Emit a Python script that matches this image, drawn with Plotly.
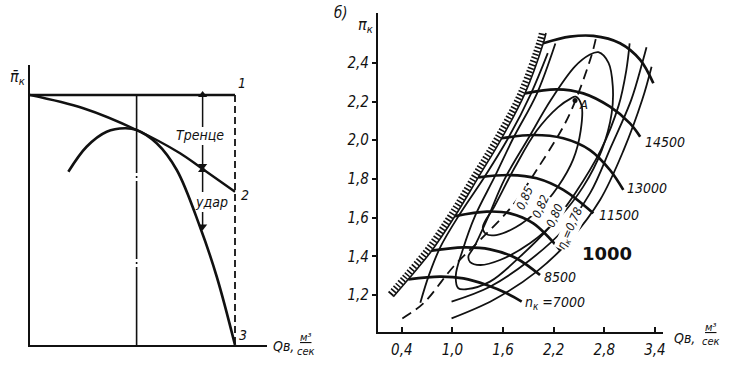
import plotly.graph_objects as go

# ======================= DATA =======================
# ---- left panel: schematic (relative units: Q / Q_max, pi / pi_max) ----
top_q = [0.0, 1.0]
top_pi = [1.0, 1.0]
friction_q = [0.0, 0.26, 0.52, 0.732, 0.837, 1.0]
friction_pi = [1.0, 0.947, 0.86, 0.767, 0.707, 0.613]
impact_q = [0.187, 0.276, 0.374, 0.463, 0.52, 0.618, 0.716, 0.829, 0.911, 1.0]
impact_pi = [0.693, 0.793, 0.853, 0.867, 0.86, 0.807, 0.70, 0.473, 0.273, 0.0]
design_q = 0.52
max_q = 1.0
point_names = ["1", "2", "3"]
# loss arrows (Q position, from pi, to pi)
arrow_q = 0.842
arrow_from = [0.872, 0.80, 0.612, 0.532]
arrow_to = [1.0, 0.716, 0.70, 0.474]

# ---- right panel: compressor map ----
x_tickvals = [0.4, 1.0, 1.6, 2.2, 2.8, 3.4]
x_ticktext = ["0,4", "1,0", "1,6", "2,2", "2,8", "3,4"]
y_tickvals = [1.2, 1.4, 1.6, 1.8, 2.0, 2.2, 2.4]
y_ticktext = ["1,2", "1,4", "1,6", "1,8", "2,0", "2,2", "2,4"]

surge_q = [0.30, 0.477, 0.755, 1.031, 1.307, 1.584, 1.86, 2.077, 2.109]
surge_pi = [1.191, 1.281, 1.429, 1.608, 1.808, 2.010, 2.242, 2.501, 2.554]

n7000_q = [0.477, 0.853, 1.13, 1.406, 1.643, 1.821]
n7000_pi = [1.281, 1.295, 1.286, 1.252, 1.209, 1.166]
n8500_q = [0.755, 1.13, 1.445, 1.761, 2.038]
n8500_pi = [1.429, 1.446, 1.436, 1.389, 1.303]
n10000_q = [1.031, 1.406, 1.682, 1.959, 2.275]
n10000_pi = [1.608, 1.631, 1.622, 1.570, 1.433]
n11500_q = [1.307, 1.682, 1.998, 2.314, 2.670]
n11500_pi = [1.808, 1.820, 1.803, 1.743, 1.622]
n13000_q = [1.584, 1.959, 2.314, 2.63, 2.867, 3.025]
n13000_pi = [2.010, 2.027, 2.010, 1.949, 1.846, 1.743]
n14500_q = [1.86, 2.235, 2.551, 2.867, 3.104, 3.225]
n14500_pi = [2.242, 2.263, 2.242, 2.173, 2.087, 2.018]
n16000_q = [2.077, 2.393, 2.670, 2.986, 3.225, 3.381]
n16000_pi = [2.501, 2.535, 2.539, 2.501, 2.415, 2.294]

speed_labels = ["n<sub>к</sub> =7000", "8500", "1000", "11500", "13000", "14500"]
speed_label_q = [1.84, 2.06, 2.51, 2.71, 3.045, 3.26]
speed_label_pi = [1.159, 1.293, 1.417, 1.613, 1.753, 1.99]

# efficiency contours
eta85_q = [2.43, 2.25, 2.02, 1.75, 1.52, 1.40, 1.36, 1.50, 1.74, 2.00, 2.25, 2.40, 2.46, 2.53, 2.52, 2.43]
eta85_pi = [1.90, 1.76, 1.64, 1.55, 1.51, 1.515, 1.55, 1.66, 1.86, 2.05, 2.17, 2.215, 2.225, 2.18, 2.05, 1.90]
eta82_q = [2.77, 2.55, 2.275, 1.919, 1.564, 1.33, 1.21, 1.19, 1.26, 1.42, 1.62, 1.90, 2.17, 2.45, 2.62, 2.73, 2.85, 2.90, 2.887, 2.77]
eta82_pi = [1.949, 1.76, 1.605, 1.467, 1.381, 1.355, 1.37, 1.40, 1.45, 1.60, 1.80, 2.01, 2.21, 2.38, 2.44, 2.455, 2.40, 2.28, 2.139, 1.949]
eta80_q = [2.22, 2.00, 1.72, 1.50, 1.27, 1.12, 1.04, 1.07, 1.17, 1.445, 1.801, 2.156, 2.453, 2.76, 2.97, 3.06, 3.10]
eta80_pi = [2.50, 2.24, 2.01, 1.81, 1.61, 1.43, 1.30, 1.235, 1.23, 1.269, 1.398, 1.553, 1.725, 1.95, 2.18, 2.36, 2.50]
eta78a_q = [0.99, 1.445, 1.919, 2.314, 2.63, 2.88, 3.12, 3.25, 3.30]
eta78a_pi = [1.166, 1.243, 1.381, 1.536, 1.725, 1.967, 2.21, 2.40, 2.48]
eta78b_q = [0.99, 1.485, 1.998, 2.393, 2.749, 3.03, 3.25, 3.36]
eta78b_pi = [1.079, 1.174, 1.321, 1.484, 1.691, 1.95, 2.21, 2.38]
eta78c_q = [0.62, 0.72, 0.86, 1.09, 1.38, 1.66, 1.93, 2.13]
eta78c_pi = [1.16, 1.30, 1.45, 1.62, 1.81, 2.01, 2.24, 2.45]

eta_labels = ["0,85", "0,82", "0,80", "η<sub>к</sub>=0,78"]
eta_label_q = [1.86, 2.044, 2.22, 2.405]
eta_label_pi = [1.70, 1.655, 1.611, 1.546]

optimum_q = [0.407, 0.656, 1.011, 1.327, 1.702, 1.998, 2.314, 2.453, 2.65, 2.709]
optimum_pi = [1.079, 1.157, 1.346, 1.484, 1.657, 1.846, 2.07, 2.199, 2.44, 2.544]
point_A_q = [2.453]
point_A_pi = [2.205]

# ======================= LAYOUT GEOMETRY =======================
W, H = 740, 370
L_X0, L_X1, L_Y0, L_Y1 = 30, 267, 345, 65     # left axis pixels
L_XS, L_YS = 205.0, 250.0                      # px per unit
R_X0, R_X1, R_Y0, R_Y1 = 378, 663, 332, 13     # right axis pixels
R_Q0PX, R_XS = 368.0, 84.4                      # px of Q=0, px per unit
R_P12PX, R_YS = 295.0, 193.5                    # px of pi=1.2, px per unit

def fx(px): return px / W
def fy(py): return 1 - py / H

FONT = "Liberation Sans Narrow, DejaVu Sans Condensed, Liberation Sans, Arial, sans-serif"
BLK = "#111111"

fig = go.Figure()

def line(xs, ys, xa, ya, width=2.2, dash="solid", shape="spline", color=BLK):
    fig.add_trace(go.Scatter(x=xs, y=ys, xaxis=xa, yaxis=ya, mode="lines",
                             line=dict(color=color, width=width, dash=dash, shape=shape, smoothing=1.0),
                             hoverinfo="skip", showlegend=False))

# ---- left panel traces ----
line(top_q, top_pi, "x", "y", 2.4, shape="linear")
line(friction_q, friction_pi, "x", "y", 2.4)
line(impact_q, impact_pi, "x", "y", 2.6)
line([design_q, design_q], [top_pi[0], 0], "x", "y", 1.6, dash="78px,3px,2px,3px", shape="linear")
line([max_q, max_q], [top_pi[1], 0], "x", "y", 1.8, dash="7px,4px", shape="linear")
for a, b in zip(arrow_from, arrow_to):
    line([arrow_q, arrow_q], [a, b], "x", "y", 1.5, shape="linear")
    fig.add_trace(go.Scatter(x=[arrow_q], y=[b], xaxis="x", yaxis="y", mode="markers",
                             marker=dict(symbol="triangle-up" if b > a else "triangle-down",
                                         size=8, color=BLK, line=dict(width=0)),
                             hoverinfo="skip", showlegend=False, cliponaxis=False))

# ---- right panel traces ----
def to_px(q, p):
    return R_Q0PX + q * R_XS, R_P12PX - (p - 1.2) * R_YS
def to_data(px, py):
    return (px - R_Q0PX) / R_XS, 1.2 + (R_P12PX - py) / R_YS
# hatch of the surge line: thick dashed stroke offset to the upper-left side
hq, hp = [], []
n = len(surge_q)
for i in range(n):
    a = to_px(surge_q[max(i - 1, 0)], surge_pi[max(i - 1, 0)])
    b = to_px(surge_q[min(i + 1, n - 1)], surge_pi[min(i + 1, n - 1)])
    dx, dy = b[0] - a[0], b[1] - a[1]
    ln = (dx * dx + dy * dy) ** 0.5
    nx, ny = dy / ln, -dx / ln
    if nx > 0:
        nx, ny = -nx, -ny
    cx, cy = to_px(surge_q[i], surge_pi[i])
    q2, p2 = to_data(cx + nx * 3.8, cy + ny * 3.8)
    hq.append(q2); hp.append(p2)
line(hq, hp, "x2", "y2", 6.5, dash="1.6px,2px")
line(surge_q, surge_pi, "x2", "y2", 1.6)

for qs, ps in [(eta85_q, eta85_pi), (eta82_q, eta82_pi), (eta80_q, eta80_pi),
               (eta78a_q, eta78a_pi), (eta78b_q, eta78b_pi), (eta78c_q, eta78c_pi)]:
    line(qs, ps, "x2", "y2", 1.8)

line(optimum_q, optimum_pi, "x2", "y2", 1.8, dash="10px,6px")

for qs, ps in [(n7000_q, n7000_pi), (n8500_q, n8500_pi), (n10000_q, n10000_pi),
               (n11500_q, n11500_pi), (n13000_q, n13000_pi), (n14500_q, n14500_pi),
               (n16000_q, n16000_pi)]:
    line(qs, ps, "x2", "y2", 2.7)

fig.add_trace(go.Scatter(x=point_A_q, y=point_A_pi, xaxis="x2", yaxis="y2", mode="markers",
                         marker=dict(color=BLK, size=5), hoverinfo="skip", showlegend=False))

# ======================= AXES =======================
fig.update_layout(
    template="none",
    width=W, height=H, margin=dict(l=0, r=0, t=0, b=0, autoexpand=False),
    paper_bgcolor="white", plot_bgcolor="white",
    font=dict(family=FONT, color=BLK, size=14, style="italic"),
    xaxis=dict(domain=[fx(L_X0), fx(L_X1)], range=[0, (L_X1 - L_X0) / L_XS],
               showline=True, linecolor=BLK, linewidth=2.4, anchor="y", automargin=False,
               showgrid=False, zeroline=False, showticklabels=False, ticks=""),
    yaxis=dict(domain=[fy(L_Y0), fy(L_Y1)], range=[0, (L_Y0 - L_Y1) / L_YS],
               showline=True, linecolor=BLK, linewidth=2.4, anchor="x", automargin=False,
               showgrid=False, zeroline=False, showticklabels=False, ticks=""),
    xaxis2=dict(domain=[fx(R_X0), fx(R_X1)],
                range=[(R_X0 - R_Q0PX) / R_XS, (R_X1 - R_Q0PX) / R_XS],
                showline=True, linecolor=BLK, linewidth=2.2, anchor="y2", automargin=False,
                showgrid=False, zeroline=False, ticks="inside", ticklen=5, tickwidth=1.6,
                tickcolor=BLK, tickvals=x_tickvals, ticktext=x_ticktext,
                tickfont=dict(size=15, family=FONT, style="italic"), ticklabelstandoff=3),
    yaxis2=dict(domain=[fy(R_Y0), fy(R_Y1)],
                range=[1.2 - (R_Y0 - R_P12PX) / R_YS, 1.2 + (R_P12PX - R_Y1) / R_YS],
                showline=True, linecolor=BLK, linewidth=2.2, anchor="x2", automargin=False,
                showgrid=False, zeroline=False, ticks="outside", ticklen=4, tickwidth=1.6,
                tickcolor=BLK, tickvals=y_tickvals, ticktext=y_ticktext,
                tickfont=dict(size=15, family=FONT, style="italic")),
)

# ======================= ANNOTATIONS =======================
ann = []
def ptext(text, px, py, size=14, xanchor="center", style="italic"):
    ann.append(dict(text=text, x=fx(px), y=fy(py), xref="paper", yref="paper",
                    xanchor=xanchor, yanchor="middle", showarrow=False,
                    font=dict(size=size, family=FONT, color=BLK, style=style)))

def dtext(text, q, p, xa, ya, size=14, xanchor="left", angle=0, bold=False, style="italic",
          family=FONT, bg=None):
    d = dict(text=text, x=q, y=p, xref=xa, yref=ya, xanchor=xanchor, yanchor="middle",
             showarrow=False, textangle=angle,
             font=dict(size=size, family=family, color=BLK, style=style,
                       weight="bold" if bold else "normal"))
    if bg:
        d["bgcolor"] = bg
        d["borderpad"] = 0
    ann.append(d)

# left panel
ptext("π̄<sub>к</sub>", 18, 77, size=16)
dtext(point_names[0], 1.033, 1.047, "x", "y", xanchor="center")
dtext(point_names[1], 1.049, 0.60, "x", "y", xanchor="center")
dtext(point_names[2], 1.039, 0.04, "x", "y", xanchor="center")
dtext("Тренце", 0.827, 0.84, "x", "y", xanchor="center")
dtext("удар", 0.883, 0.572, "x", "y", xanchor="center")
ptext("Qв,", 271, 346, xanchor="left")
ptext("<u>м³</u><br>сек", 306, 344, size=11)

# right panel
ptext("б)", 341, 13, size=15)
ptext("π<sub>к</sub>", 366, 26, size=16)
ptext("Qв,", 672, 338, xanchor="left")
ptext("<u>м³</u><br>сек", 711, 334, size=11)
for t, q, p in zip(speed_labels, speed_label_q, speed_label_pi):
    if t == "1000":
        dtext(t, q, p, "x2", "y2", size=18, bold=True, style="normal",
              family="DejaVu Sans, Liberation Sans, Arial, sans-serif")
    else:
        dtext(t, q, p, "x2", "y2", size=14)
for t, q, p in zip(eta_labels, eta_label_q, eta_label_pi):
    dtext(t, q, p, "x2", "y2", size=12, xanchor="center", angle=-66, bg="white")
dtext("A", 2.553, 2.182, "x2", "y2", size=13, xanchor="center")

fig.update_layout(annotations=ann)
fig.write_html("out.html",
               config={"displayModeBar": False},
               post_script="document.body.style.margin='0';document.body.style.padding='0';"
                           "document.documentElement.style.overflow='hidden';")
